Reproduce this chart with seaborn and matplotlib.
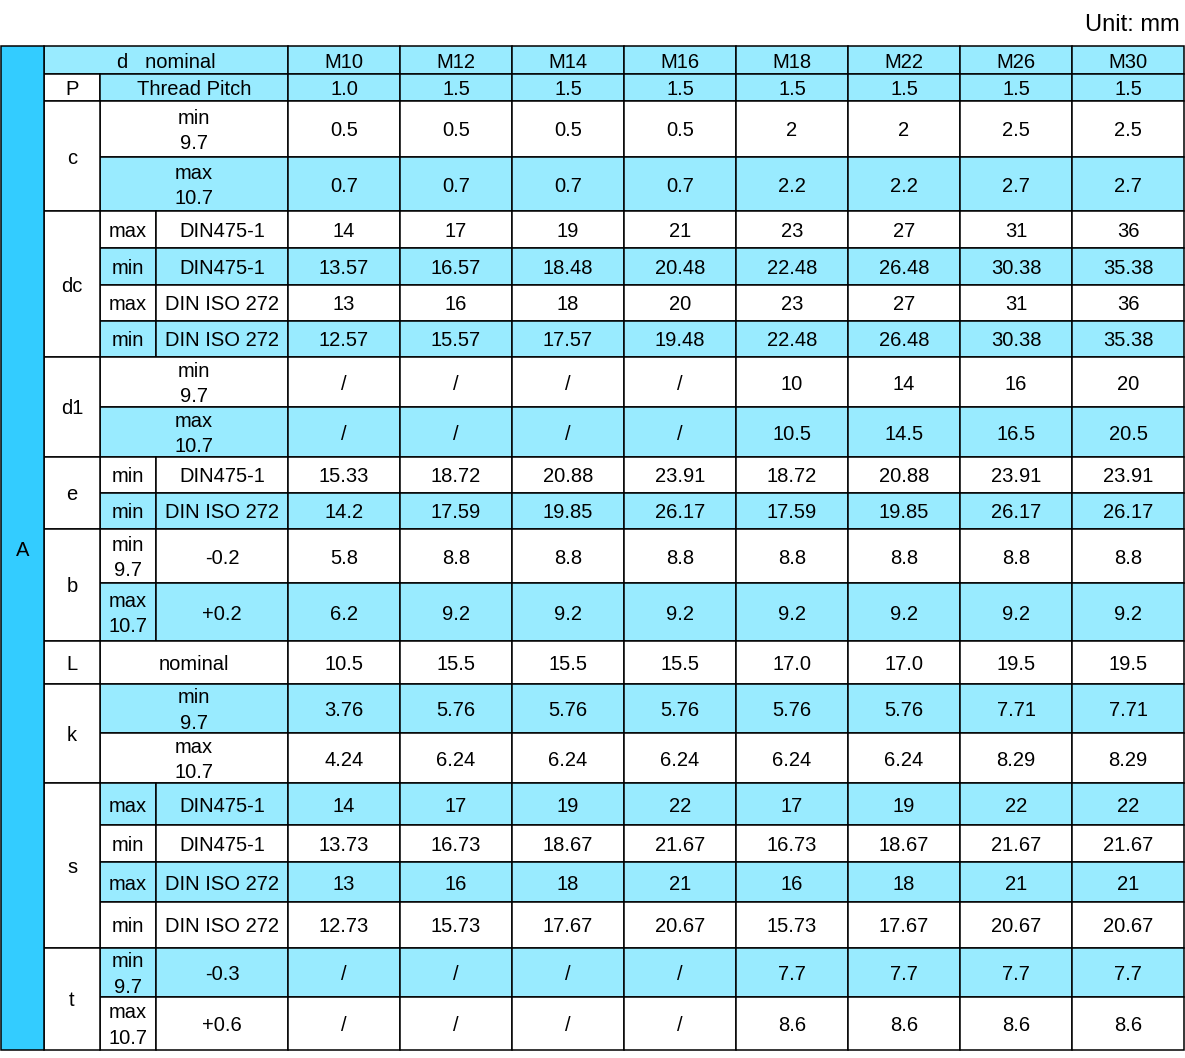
import matplotlib
matplotlib.use("Agg")
import matplotlib.pyplot as plt
from matplotlib.patches import Rectangle
import seaborn as sns

sns.set_theme(style="white")
plt.rcParams["font.family"] = ["Liberation Sans", "DejaVu Sans"]

## table content

sizes = ["M10", "M12", "M14", "M16", "M18", "M22", "M26", "M30"]
pitch = ["1.0", "1.5", "1.5", "1.5", "1.5", "1.5", "1.5", "1.5"]

c_min = ["0.5", "0.5", "0.5", "0.5", "2", "2", "2.5", "2.5"]
c_max = ["0.7", "0.7", "0.7", "0.7", "2.2", "2.2", "2.7", "2.7"]

dc_max_475 = ["14", "17", "19", "21", "23", "27", "31", "36"]
dc_min_475 = ["13.57", "16.57", "18.48", "20.48", "22.48", "26.48", "30.38", "35.38"]
dc_max_iso = ["13", "16", "18", "20", "23", "27", "31", "36"]
dc_min_iso = ["12.57", "15.57", "17.57", "19.48", "22.48", "26.48", "30.38", "35.38"]

d1_min = ["/", "/", "/", "/", "10", "14", "16", "20"]
d1_max = ["/", "/", "/", "/", "10.5", "14.5", "16.5", "20.5"]

e_min_475 = ["15.33", "18.72", "20.88", "23.91", "18.72", "20.88", "23.91", "23.91"]
e_min_iso = ["14.2", "17.59", "19.85", "26.17", "17.59", "19.85", "26.17", "26.17"]

b_min = ["5.8", "8.8", "8.8", "8.8", "8.8", "8.8", "8.8", "8.8"]
b_max = ["6.2", "9.2", "9.2", "9.2", "9.2", "9.2", "9.2", "9.2"]

l_nom = ["10.5", "15.5", "15.5", "15.5", "17.0", "17.0", "19.5", "19.5"]

k_min = ["3.76", "5.76", "5.76", "5.76", "5.76", "5.76", "7.71", "7.71"]
k_max = ["4.24", "6.24", "6.24", "6.24", "6.24", "6.24", "8.29", "8.29"]

s_max_475 = ["14", "17", "19", "22", "17", "19", "22", "22"]
s_min_475 = ["13.73", "16.73", "18.67", "21.67", "16.73", "18.67", "21.67", "21.67"]
s_max_iso = ["13", "16", "18", "21", "16", "18", "21", "21"]
s_min_iso = ["12.73", "15.73", "17.67", "20.67", "15.73", "17.67", "20.67", "20.67"]

t_min = ["/", "/", "/", "/", "7.7", "7.7", "7.7", "7.7"]
t_max = ["/", "/", "/", "/", "8.6", "8.6", "8.6", "8.6"]

# groups: (label, [(sub label, standard or None, values, shaded, row height)])
groups = [
    ("c", [("min\n9.7", None, c_min, False, 56), ("max\n10.7", None, c_max, True, 54)]),
    ("dc", [("max", "DIN475-1", dc_max_475, False, 37), ("min", "DIN475-1", dc_min_475, True, 37),
            ("max", "DIN ISO 272", dc_max_iso, False, 36), ("min", "DIN ISO 272", dc_min_iso, True, 36)]),
    ("d1", [("min\n9.7", None, d1_min, False, 50), ("max\n10.7", None, d1_max, True, 50)]),
    ("e", [("min", "DIN475-1", e_min_475, False, 36), ("min", "DIN ISO 272", e_min_iso, True, 36)]),
    ("b", [("min\n9.7", "-0.2", b_min, False, 54), ("max\n10.7", "+0.2", b_max, True, 58)]),
    ("L", [("nominal", None, l_nom, False, 43)]),
    ("k", [("min\n9.7", None, k_min, True, 49), ("max\n10.7", None, k_max, False, 50)]),
    ("s", [("max", "DIN475-1", s_max_475, True, 42), ("min", "DIN475-1", s_min_475, False, 37),
           ("max", "DIN ISO 272", s_max_iso, True, 40), ("min", "DIN ISO 272", s_min_iso, False, 46)]),
    ("t", [("min\n9.7", "-0.3", t_min, True, 49), ("max\n10.7", "+0.6", t_max, False, 53)]),
]

## drawing

light = "#99ebff"
dark = "#33ccff"
fs = 14.5

fig = plt.figure(figsize=(11.85, 10.58), dpi=100)
ax = fig.add_axes([0, 0, 1, 1])
ax.set_xlim(0, 1185)
ax.set_ylim(1058, 0)
ax.axis("off")


def cell(x0, x1, y0, y1, text, fill, ls=1.42):
    ax.add_patch(Rectangle((x0, y0), x1 - x0, y1 - y0, facecolor=fill,
                           edgecolor="black", linewidth=1.1))
    if text:
        ax.text((x0 + x1) / 2, (y0 + y1) / 2 + 2, text, ha="center", va="center",
                fontsize=fs, color="black", linespacing=ls)


col_x = [288 + 112 * i for i in range(9)]

# header rows
top = 46
cell(44, 288, top, 74, "d   nominal", light)
for i, name in enumerate(sizes):
    cell(col_x[i], col_x[i + 1], top, 74, name, light)
cell(44, 100, 74, 101, "P", "white")
cell(100, 288, 74, 101, "Thread Pitch", light)
for i, v in enumerate(pitch):
    cell(col_x[i], col_x[i + 1], 74, 101, v, light)

y = 101
for label, rows in groups:
    y_start = y
    for sub, std, vals, shaded, h in rows:
        fill = light if shaded else "white"
        if std is None:
            cell(100, 288, y, y + h, sub, fill)
        else:
            cell(100, 156, y, y + h, sub, fill, ls=1.45)
            cell(156, 288, y, y + h, std, fill)
        for i, v in enumerate(vals):
            cell(col_x[i], col_x[i + 1], y, y + h, v, fill)
        y += h
    cell(44, 100, y_start, y, label, "white")

# left band
cell(1, 44, top, y, "A", dark)

ax.text(1180, 25, "Unit: mm", ha="right", va="center", fontsize=17, color="black")

fig.savefig("out.png", dpi=100)
